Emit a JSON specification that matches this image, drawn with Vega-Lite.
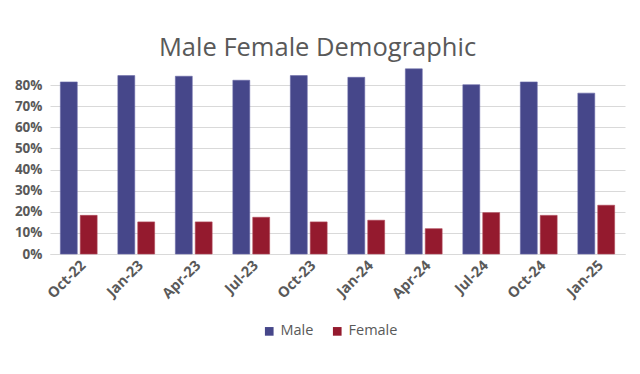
{
  "$schema": "https://vega.github.io/schema/vega-lite/v6.json",
  "width": 575,
  "height": 190,
  "autosize": {"type": "none"},
  "padding": {"left": 50, "top": 64, "right": 15, "bottom": 120},
  "background": "white",
  "title": {
    "text": "Male Female Demographic",
    "font": "Open Sans",
    "fontSize": 25.5,
    "fontWeight": 400,
    "color": "#595959",
    "anchor": "middle",
    "dx": -20,
    "offset": 3
  },
  "config": {
    "view": {"stroke": null},
    "font": "Open Sans"
  },
  "data": {
    "values": [
      {"month": "Oct-22", "gender": "Male", "value": 0.815},
      {"month": "Oct-22", "gender": "Female", "value": 0.183},
      {"month": "Jan-23", "gender": "Male", "value": 0.845},
      {"month": "Jan-23", "gender": "Female", "value": 0.152},
      {"month": "Apr-23", "gender": "Male", "value": 0.842},
      {"month": "Apr-23", "gender": "Female", "value": 0.152},
      {"month": "Jul-23", "gender": "Male", "value": 0.823},
      {"month": "Jul-23", "gender": "Female", "value": 0.174},
      {"month": "Oct-23", "gender": "Male", "value": 0.845},
      {"month": "Oct-23", "gender": "Female", "value": 0.152},
      {"month": "Jan-24", "gender": "Male", "value": 0.837},
      {"month": "Jan-24", "gender": "Female", "value": 0.160},
      {"month": "Apr-24", "gender": "Male", "value": 0.877},
      {"month": "Apr-24", "gender": "Female", "value": 0.120},
      {"month": "Jul-24", "gender": "Male", "value": 0.802},
      {"month": "Jul-24", "gender": "Female", "value": 0.196},
      {"month": "Oct-24", "gender": "Male", "value": 0.815},
      {"month": "Oct-24", "gender": "Female", "value": 0.183},
      {"month": "Jan-25", "gender": "Male", "value": 0.762},
      {"month": "Jan-25", "gender": "Female", "value": 0.231}
    ]
  },
  "mark": {"type": "bar", "strokeWidth": 0.6},
  "encoding": {
    "x": {
      "field": "month",
      "type": "nominal",
      "sort": null,
      "title": null,
      "scale": {"paddingInner": 0.36, "paddingOuter": 0.18},
      "axis": {
        "labelAngle": -45,
        "labelFont": "Open Sans",
        "labelFontWeight": "bold",
        "labelFontSize": 14.5,
        "labelColor": "#595959",
        "ticks": false,
        "domain": true,
        "domainColor": "#d9d9d9",
        "labelPadding": 4
      }
    },
    "xOffset": {
      "field": "gender",
      "type": "nominal",
      "sort": ["Male", "Female"],
      "scale": {"paddingInner": 0.15, "paddingOuter": 0}
    },
    "y": {
      "field": "value",
      "type": "quantitative",
      "title": null,
      "scale": {"domain": [0, 0.9], "nice": false},
      "axis": {
        "values": [0, 0.1, 0.2, 0.3, 0.4, 0.5, 0.6, 0.7, 0.8],
        "format": ".0%",
        "labelFont": "Open Sans",
        "labelFontWeight": "bold",
        "labelFontSize": 13.5,
        "labelColor": "#595959",
        "ticks": false,
        "domain": false,
        "gridColor": "#d9d9d9",
        "gridWidth": 1,
        "labelPadding": 8
      }
    },
    "color": {
      "field": "gender",
      "type": "nominal",
      "sort": ["Male", "Female"],
      "scale": {"domain": ["Male", "Female"], "range": ["#46478A", "#941A2E"]},
      "legend": {
        "title": null,
        "orient": "none",
        "direction": "horizontal",
        "legendX": 212,
        "legendY": 260,
        "symbolType": "square",
        "symbolSize": 75,
        "labelFont": "Open Sans",
        "labelFontSize": 14.5,
        "labelColor": "#595959",
        "columnPadding": 16,
        "symbolStrokeWidth": 0
      }
    },
    "stroke": {
      "field": "gender",
      "type": "nominal",
      "scale": {"domain": ["Male", "Female"], "range": ["#6a6aa8", "#b04a5a"]},
      "legend": null
    }
  }
}
